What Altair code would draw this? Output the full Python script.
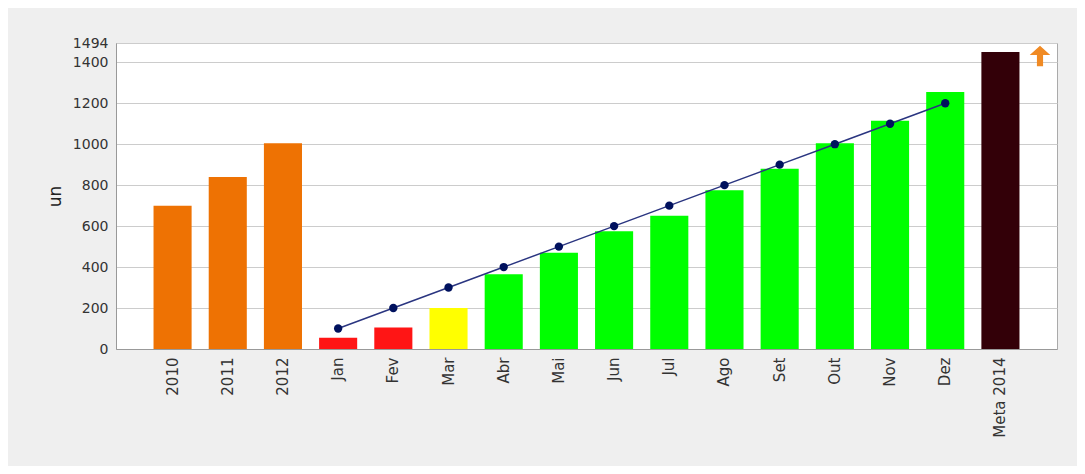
import altair as alt
import pandas as pd

categories = ["2010", "2011", "2012", "Jan", "Fev", "Mar", "Abr", "Mai", "Jun",
              "Jul", "Ago", "Set", "Out", "Nov", "Dez", "Meta 2014"]
values = [700, 840, 1005, 55, 105, 200, 365, 470, 575, 650, 775, 880, 1005, 1115, 1255, 1450]
status = ["hist", "hist", "hist", "bad", "bad", "warn", "ok", "ok", "ok",
          "ok", "ok", "ok", "ok", "ok", "ok", "meta"]
months = ["Jan", "Fev", "Mar", "Abr", "Mai", "Jun", "Jul", "Ago", "Set", "Out", "Nov", "Dez"]
targets = [100, 200, 300, 400, 500, 600, 700, 800, 900, 1000, 1100, 1200]
y_ticks = [0, 200, 400, 600, 800, 1000, 1200, 1400, 1494]

status_domain = ["hist", "bad", "warn", "ok", "meta"]
status_colors = ["#ee7203", "#ff1515", "#ffff00", "#00ff00", "#330008"]

bars_df = pd.DataFrame({"cat": categories, "value": values, "status": status})
line_df = pd.DataFrame({"cat": months, "value": targets})
arrow_df = pd.DataFrame({"k": [1]})

FONT = "DejaVu Sans"

x_scale = alt.Scale(domain=categories, paddingInner=0.31, paddingOuter=0.68)
y_scale = alt.Scale(domain=[0, 1494], nice=False)

x_axis = alt.Axis(title=None, labelAngle=-90, ticks=False, labelPadding=8,
                  labelFontSize=15, labelColor="#333333", labelFont=FONT,
                  labelOverlap=False, domainColor="#999999", grid=False)
y_axis = alt.Axis(title="un", values=y_ticks, format="d", labelOverlap=False,
                  labelFontSize=14, labelColor="#333333",
                  labelFont=FONT, titleFont=FONT, titleFontSize=17,
                  titleFontWeight="normal", titleColor="#222222",
                  titlePadding=8, ticks=False, labelPadding=8,
                  domainColor="#999999", gridColor="#cccccc", grid=True)

x_enc = alt.X("cat:N", sort=categories, scale=x_scale, axis=x_axis)
y_enc = alt.Y("value:Q", scale=y_scale, axis=y_axis)

bars = alt.Chart(bars_df).mark_bar().encode(
    x=x_enc,
    y=y_enc,
    color=alt.Color("status:N", scale=alt.Scale(domain=status_domain, range=status_colors),
                    legend=None),
)

line = alt.Chart(line_df).mark_line(color="#2a3580", strokeWidth=1.5).encode(
    x=x_enc,
    y=y_enc,
)

points = alt.Chart(line_df).mark_point(filled=True, color="#00115e", size=70, opacity=1).encode(
    x=x_enc,
    y=y_enc,
)

arrow = alt.Chart(arrow_df).mark_point(
    filled=True, color="#f08a24", opacity=1, size=420,
    shape="M0,-1 L1,-0.1 L0.3,-0.1 L0.3,1 L-0.3,1 L-0.3,-0.1 L-1,-0.1 Z"
).encode(x=alt.value(924), y=alt.value(13))

chart = alt.layer(bars, line, points, arrow).properties(
    width=941, height=306,
    autosize=alt.AutoSizeParams(type="none"),
    padding={"left": 108, "top": 35, "right": 20, "bottom": 117},
    background="#efefef",
).configure_view(stroke="#aaaaaa", fill="white")

chart.save("out.html", embed_options={"renderer": "svg", "actions": False})
